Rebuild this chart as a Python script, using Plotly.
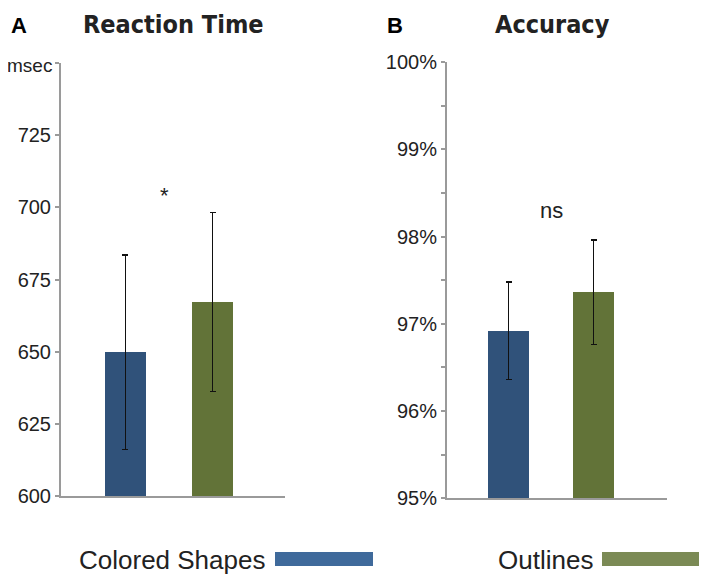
import plotly.graph_objects as go

# ---- data ----
conditions = ["Colored Shapes", "Outlines"]
rt_mean = [649.8, 667.3]          # msec
rt_err = [33.7, 31.0]
acc_mean = [96.92, 97.36]         # percent
acc_err = [0.56, 0.60]

rt_ticks = [600, 625, 650, 675, 700, 725, 750]
rt_ticktext = ["600", "625", "650", "675", "700", "725", ""]
acc_ticks = [95, 95.5, 96, 96.5, 97, 97.5, 98, 98.5, 99, 99.5, 100]
acc_ticktext = ["95%", "", "96%", "", "97%", "", "98%", "", "99%", "", "100%"]

bar_colors = ["#30527a", "#627338"]
legend_colors = ["#3f6a9b", "#7b8a55"]

W, H = 707, 580
OFF = 8  # page body margin shifts the figure by this many pixels

def px(x):
    return (x - OFF) / W
def py(y):
    return 1 - (y - OFF) / H

fig = go.Figure()

fig.add_trace(go.Bar(
    x=[0, 1], y=rt_mean, width=0.47, marker=dict(color=bar_colors, line=dict(width=0)),
    error_y=dict(type="data", array=rt_err, color="#111", thickness=1.3, width=3),
    xaxis="x", yaxis="y", showlegend=False,
))
fig.add_trace(go.Bar(
    x=[0, 1], y=acc_mean, width=0.48, marker=dict(color=bar_colors, line=dict(width=0)),
    error_y=dict(type="data", array=acc_err, color="#111", thickness=1.3, width=3),
    xaxis="x2", yaxis="y2", showlegend=False,
))

axis_common = dict(showline=True, linecolor="#9a9a9a", linewidth=2, showgrid=False,
                   zeroline=False, automargin=False)
tick_font = dict(family="Liberation Sans, Arial, sans-serif", size=20, color="#222")

fig.update_layout(
    width=W, height=H,
    margin=dict(l=0, r=0, t=0, b=0, pad=0),
    paper_bgcolor="white", plot_bgcolor="white",
    bargap=0,
    xaxis=dict(domain=[px(61), px(285)], range=[-0.741, 1.833], showticklabels=False,
               ticks="", anchor="y", **axis_common),
    yaxis=dict(domain=[py(496), py(63)], range=[600, 750], tickvals=rt_ticks, ticktext=rt_ticktext,
               ticks="outside", ticklen=4, tickcolor="#9a9a9a", tickwidth=1.5,
               tickfont=tick_font, anchor="x", **axis_common),
    xaxis2=dict(domain=[px(447), px(667)], range=[-0.724, 1.865], showticklabels=False,
                ticks="", anchor="y2", **axis_common),
    yaxis2=dict(domain=[py(498.3), py(62)], range=[95, 100], tickvals=acc_ticks, ticktext=acc_ticktext,
                ticks="outside", ticklen=4, tickcolor="#9a9a9a", tickwidth=1.5,
                tickfont=tick_font, anchor="x2", **axis_common),
)

def note(text, x, y, font, xanchor="center"):
    fig.add_annotation(text=text, x=px(x), y=py(y), xref="paper", yref="paper",
                       xanchor=xanchor, yanchor="middle", showarrow=False, font=font)

title_font = dict(family="DejaVu Sans Condensed, Liberation Sans Narrow, Liberation Sans, sans-serif",
                  size=25, color="#222")
letter_font = dict(family="Liberation Sans, Arial, sans-serif", size=22, color="#000")
note("<b>Reaction Time</b>", 173, 24, title_font)
note("<b>Accuracy</b>", 552, 24, title_font)
note("<b>A</b>", 9, 25, letter_font, xanchor="left")
note("<b>B</b>", 395, 25, letter_font)

# unit label at the top of the reaction-time axis
note("msec", 54, 65, dict(family="Liberation Sans, Arial, sans-serif", size=19, color="#222"),
     xanchor="right")

# significance markers
fig.add_annotation(text="*", x=0.45, y=704, xref="x", yref="y", showarrow=False,
                   xanchor="center", yanchor="middle",
                   font=dict(family="Liberation Sans, Arial, sans-serif", size=22, color="#222"))
fig.add_annotation(text="ns", x=0.5, y=98.3, xref="x2", yref="y2", showarrow=False,
                   xanchor="center", yanchor="middle",
                   font=dict(family="Liberation Sans, Arial, sans-serif", size=22, color="#222"))

# legend-like labels under the panels
legend_font = dict(family="Liberation Sans, Arial, sans-serif", size=26, color="#222")
note(conditions[0], 267, 560, legend_font, xanchor="right")
note(conditions[1], 595, 560, legend_font, xanchor="right")
fig.add_shape(type="rect", xref="paper", yref="paper", x0=px(275), x1=px(373), y0=py(566), y1=py(552),
              fillcolor=legend_colors[0], line=dict(width=0))
fig.add_shape(type="rect", xref="paper", yref="paper", x0=px(602), x1=px(701), y0=py(566), y1=py(552),
              fillcolor=legend_colors[1], line=dict(width=0))

fig.write_html("out.html")
